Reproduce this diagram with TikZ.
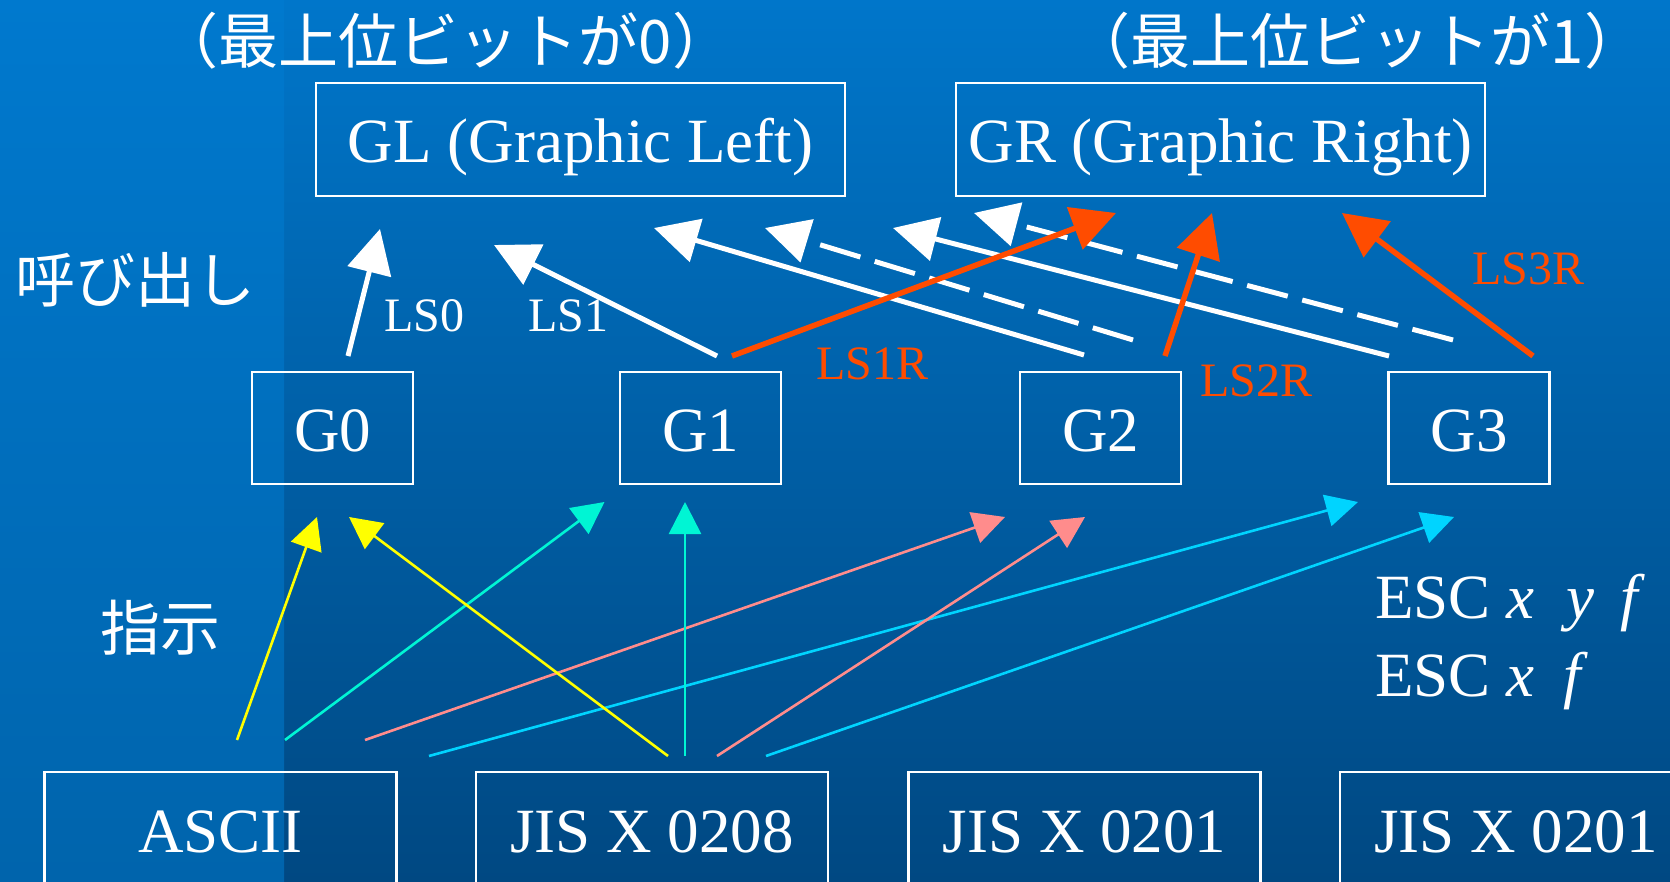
\documentclass[tikz,border=0pt]{standalone}
\usepackage{fontspec}
\setmainfont{Liberation Serif}
\newfontfamily\jpfont{Noto Sans CJK JP}
\usetikzlibrary{arrows.meta}

\definecolor{bgtop}{RGB}{0,118,202}
\definecolor{bgbot}{RGB}{0,72,130}
\definecolor{striptop}{RGB}{0,121,206}
\definecolor{stripbot}{RGB}{0,100,172}
\definecolor{lsorange}{RGB}{255,76,0}
\definecolor{dyellow}{RGB}{255,255,0}
\definecolor{dturq}{RGB}{0,245,212}
\definecolor{dpink}{RGB}{255,140,140}
\definecolor{dcyan}{RGB}{0,212,255}

\begin{document}
\begin{tikzpicture}[x=1pt,y=-1pt,
  setbox/.style={draw=white, line width=2.5pt, text=white, inner sep=0pt,
    font=\fontsize{63}{70}\selectfont, text height=47pt, text depth=0pt},
  gbox/.style={setbox, minimum width=161pt, minimum height=112pt},
  widebox/.style={setbox, minimum width=529pt, minimum height=113pt},
  codebox/.style={setbox, minimum width=352pt, minimum height=113pt},
  jp/.style={text=white, inner sep=0pt, font=\jpfont\fontsize{60}{66}\selectfont},
  lbl/.style={inner sep=0pt, anchor=base west, font=\fontsize{48}{54}\selectfont},
  esc/.style={text=white, inner sep=0pt, anchor=base west, font=\fontsize{63}{70}\selectfont},
  invoke/.style={draw=white, line width=5pt, -{Triangle[length=44pt,width=44pt]}},
  single/.style={invoke, dash pattern=on 42pt off 15pt},
  invokeR/.style={draw=lsorange, line width=5.5pt, -{Triangle[length=44pt,width=44pt]}},
  designate/.style={line width=2.6pt, -{Triangle[length=32pt,width=32pt]}}
]
\useasboundingbox (0,0) rectangle (1670,882);
\clip (0,0) rectangle (1670,882);

% background: vertical gradient with a lighter band on the left
\fill[top color=bgtop, bottom color=bgbot] (0,0) rectangle (1670,882);
\fill[top color=striptop, bottom color=stripbot] (0,0) rectangle (284,882);

% headings
\node[jp] (hdrL) at (445.5,41) {（最上位ビットが0）};
\node[jp] (hdrR) at (1357.5,41) {（最上位ビットが1）};
\node[jp] (yobidashi) at (136,280) {呼び出し};
\node[jp] (shiji) at (160,628) {指示};

% graphic areas
\node[widebox] (GL) at (580.5,139.5) {GL (Graphic Left)};
\node[widebox] (GR) at (1220.5,139.5) {GR (Graphic Right)};

% intermediate buffers
\node[gbox] (G0) at (332.5,428) {G0};
\node[gbox] (G1) at (700.5,428) {G1};
\node[gbox] (G2) at (1100.5,428) {G2};
\node[gbox] (G3) at (1469,428) {G3};

% character sets
\node[codebox] (ascii) at (220.5,828.5) {ASCII};
\node[codebox] (jis0208) at (652,828.5) {JIS X 0208};
\node[codebox] (jis0201a) at (1084.5,828.5) {JIS X 0201};
\node[codebox] (jis0201b) at (1516,828.5) {JIS X 0201};

% labels
\node[lbl, text=white] (ls0) at (384,332) {LS0};
\node[lbl, text=white] (ls1) at (528,332) {LS1};
\node[lbl, text=lsorange] (ls1r) at (816,380) {LS1R};
\node[lbl, text=lsorange] (ls2r) at (1200,396) {LS2R};
\node[lbl, text=lsorange] (ls3r) at (1472,285) {LS3R};
\node[esc] (escA) at (1375,618) {ESC \textit{x}\hspace{32pt}\textit{y}\hspace{26pt}\textit{f}};
\node[esc] (escB) at (1375,696) {ESC \textit{x}\hspace{29pt}\textit{f}};

% connector ends
\coordinate (g0-ls0) at (348,356);   \coordinate (gl-ls0) at (380,229);
\coordinate (g1-ls1) at (717,356);   \coordinate (gl-ls1) at (494,245);
\coordinate (g2-ls2) at (1084,355);  \coordinate (gl-ls2) at (654,228);
\coordinate (g2-ss2) at (1133,340);  \coordinate (gl-ss2) at (765,228);
\coordinate (g3-ls3) at (1389,356);  \coordinate (gl-ls3) at (893,228);
\coordinate (g3-ss3) at (1453,340);  \coordinate (gl-ss3) at (974,213);
\coordinate (g1-ls1r) at (732,356);  \coordinate (gr-ls1r) at (1116,213);
\coordinate (g2-ls2r) at (1165,356); \coordinate (gr-ls2r) at (1212,213);
\coordinate (g3-ls3r) at (1533,356); \coordinate (gr-ls3r) at (1342,213);

\coordinate (ascii-g0) at (237,740);  \coordinate (g0-a) at (317,517);
\coordinate (ascii-g1) at (285,740);  \coordinate (g1-a) at (604.5,502);
\coordinate (ascii-g2) at (365,740);  \coordinate (g2-a) at (1005,517);
\coordinate (ascii-g3) at (429,756);  \coordinate (g3-a) at (1358,502);
\coordinate (kanji-g0) at (668,756);  \coordinate (g0-k) at (349,517);
\coordinate (kanji-g1) at (685,756);  \coordinate (g1-k) at (685,502);
\coordinate (kanji-g2) at (717,756);  \coordinate (g2-k) at (1085,517);
\coordinate (kanji-g3) at (766,756);  \coordinate (g3-k) at (1454,517);

% designation (G0..G3 <- character sets)
\draw[designate, dyellow] (ascii-g0) -- (g0-a);
\draw[designate, dturq]   (ascii-g1) -- (g1-a);
\draw[designate, dpink]   (ascii-g2) -- (g2-a);
\draw[designate, dcyan]   (ascii-g3) -- (g3-a);
\draw[designate, dyellow] (kanji-g0) -- (g0-k);
\draw[designate, dturq]   (kanji-g1) -- (g1-k);
\draw[designate, dpink]   (kanji-g2) -- (g2-k);
\draw[designate, dcyan]   (kanji-g3) -- (g3-k);

% invocation into GL
\draw[invoke] (g0-ls0) -- (gl-ls0);
\draw[invoke] (g1-ls1) -- (gl-ls1);
\draw[invoke] (g2-ls2) -- (gl-ls2);
\draw[single] (g2-ss2) -- (gl-ss2);
\draw[invoke] (g3-ls3) -- (gl-ls3);
\draw[single] (g3-ss3) -- (gl-ss3);

% invocation into GR
\draw[invokeR] (g1-ls1r) -- (gr-ls1r);
\draw[invokeR] (g2-ls2r) -- (gr-ls2r);
\draw[invokeR] (g3-ls3r) -- (gr-ls3r);
\end{tikzpicture}
\end{document}
